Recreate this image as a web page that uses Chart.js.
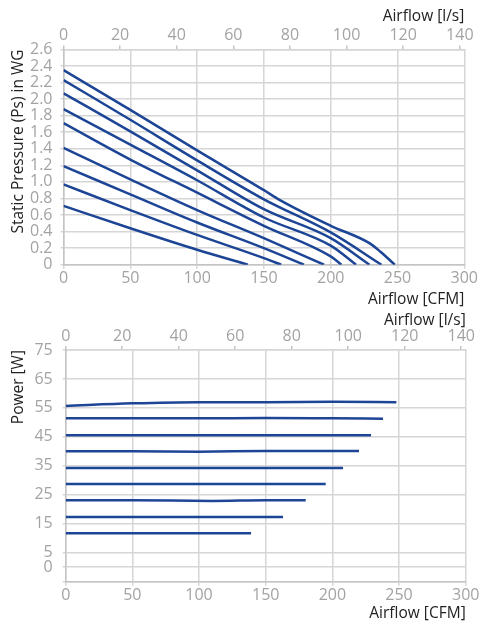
<!DOCTYPE html>
<html>
<head>
<meta charset="utf-8">
<script src="https://cdn.jsdelivr.net/npm/chart.js@4/dist/chart.umd.min.js"></script>
<style>
  body { margin: 0; background: #fff; }
  .box { position: absolute; left: 0; width: 480px; }
  #top { top: 0; height: 310px; }
  #bottom { top: 308px; height: 316px; }
</style>
</head>
<body>
<div class="box" id="top"><canvas id="pressureChart"></canvas></div>
<div class="box" id="bottom"><canvas id="powerChart"></canvas></div>
<script>
// tick labels
const cfmTicks = [0, 50, 100, 150, 200, 250, 300];
const lpsTicks = [0, 20, 40, 60, 80, 100, 120, 140];
const pressureTicks = [0, 0.2, 0.4, 0.6, 0.8, 1.0, 1.2, 1.4, 1.6, 1.8, 2.0, 2.2, 2.4, 2.6];
const powerTicks = [-5, 0, 5, 15, 25, 35, 45, 55, 65, 75];
const CFM_PER_LPS = 2.11888;

// static pressure curves (airflow in CFM, pressure in WG), one row per fan speed
const pressureFlow = [
    [0, 50, 100, 150, 162, 200, 229, 237, 248],
    [0, 50, 100, 150, 200, 238],
    [0, 50, 100, 150, 200, 229],
    [0, 50, 100, 150, 200, 219],
    [0, 50, 100, 150, 200, 208],
    [0, 50, 100, 150, 195],
    [0, 50, 100, 150, 180],
    [0, 50, 100, 150, 163],
    [0, 50, 100, 138]
];
const pressureWg = [
    [2.35, 1.87, 1.38, 0.90, 0.78, 0.47, 0.26, 0.16, 0],
    [2.23, 1.75, 1.26, 0.79, 0.39, 0],
    [2.07, 1.61, 1.14, 0.67, 0.32, 0],
    [1.88, 1.45, 1.02, 0.57, 0.23, 0],
    [1.71, 1.27, 0.87, 0.47, 0.10, 0],
    [1.41, 1.03, 0.66, 0.32, 0],
    [1.19, 0.85, 0.51, 0.20, 0],
    [0.97, 0.66, 0.36, 0.08, 0],
    [0.71, 0.44, 0.18, 0]
];

// power curves (airflow in CFM, power in W)
const powerFlow = [
    [0, 50, 100, 150, 200, 248],
    [0, 50, 100, 150, 200, 238],
    [0, 50, 100, 150, 200, 229],
    [0, 50, 100, 150, 200, 220],
    [0, 50, 100, 150, 208],
    [0, 50, 100, 150, 195],
    [0, 50, 110, 150, 180],
    [0, 50, 100, 150, 163],
    [0, 50, 100, 139]
];
const powerWatts = [
    [55.7, 56.6, 57.0, 57.0, 57.1, 57.0],
    [51.4, 51.4, 51.4, 51.5, 51.4, 51.3],
    [45.6, 45.6, 45.6, 45.6, 45.6, 45.6],
    [40.0, 40.0, 39.9, 40.1, 40.1, 40.1],
    [34.3, 34.3, 34.3, 34.3, 34.3],
    [28.7, 28.7, 28.7, 28.7, 28.7],
    [23.1, 23.1, 22.9, 23.1, 23.1],
    [17.3, 17.3, 17.3, 17.3, 17.3],
    [11.7, 11.7, 11.7, 11.7]
];

const lineColor = '#1d4596';
const gridColor = '#d6d6d6';
const tickColor = '#a3a3a3';
const fontFamily = '"Open Sans", "Noto Sans", sans-serif';

function buildDatasets(flows, values) {
    return flows.map((flow, i) => ({
        data: flow.map((x, j) => ({ x: x, y: values[i][j] })),
        borderColor: lineColor,
        borderWidth: 2.5,
        pointRadius: 0,
        fill: false,
        cubicInterpolationMode: 'monotone'
    }));
}

function makeChart(id, flows, values, yTicks, yTitle, yLabel, sizes) {
    const ctx = document.getElementById(id).getContext('2d');
    const tickFont = { family: fontFamily, size: 16 };
    const titleFont = { family: fontFamily, size: 15.5 };
    return new Chart(ctx, {
        type: 'line',
        data: { datasets: buildDatasets(flows, values) },
        options: {
            responsive: true,
            maintainAspectRatio: false,
            animation: false,
            events: [],
            layout: { padding: { left: 0, right: sizes.right, top: 0, bottom: 0 } },
            plugins: { legend: { display: false }, tooltip: { enabled: false } },
            scales: {
                x: {
                    type: 'linear',
                    position: 'bottom',
                    min: 0,
                    max: 300,
                    afterBuildTicks: s => { s.ticks = cfmTicks.map(v => ({ value: v })); },
                    afterFit: s => { s.height = sizes.bottom; },
                    grid: { color: gridColor, lineWidth: 1.5, tickLength: 4 },
                    border: { color: '#c4c4c4', width: 1.5 },
                    ticks: { color: tickColor, font: tickFont, padding: 0, maxRotation: 0, autoSkip: false },
                    title: { display: true, text: 'Airflow [CFM]', align: 'end', color: '#222',
                             font: titleFont, padding: { top: 0, bottom: 1 } }
                },
                x2: {
                    type: 'linear',
                    position: 'top',
                    min: 0,
                    max: 300 / CFM_PER_LPS,
                    afterBuildTicks: s => { s.ticks = lpsTicks.map(v => ({ value: v })); },
                    afterFit: s => { s.height = sizes.top; },
                    grid: { drawOnChartArea: false, color: '#c4c4c4', lineWidth: 1.5, tickLength: 4 },
                    border: { color: gridColor, width: 1.5 },
                    ticks: { color: tickColor, font: tickFont, padding: 0, maxRotation: 0, autoSkip: false },
                    title: { display: true, text: 'Airflow [l/s]', align: 'end', color: '#222',
                             font: titleFont, padding: { top: sizes.titleTop, bottom: 0 } }
                },
                y: {
                    type: 'linear',
                    min: yTicks[0],
                    max: yTicks[yTicks.length - 1],
                    afterBuildTicks: s => { s.ticks = yTicks.map(v => ({ value: v })); },
                    afterFit: s => { s.width = sizes.left; },
                    grid: { color: gridColor, lineWidth: 1.5, tickLength: 3 },
                    border: { color: '#c4c4c4', width: 1.5 },
                    ticks: { color: tickColor, font: tickFont, padding: sizes.tickPad, autoSkip: false, callback: yLabel },
                    title: { display: true, text: yTitle, align: 'end', color: '#222',
                             font: titleFont, padding: { top: 9, bottom: 0 } }
                }
            }
        }
    });
}

makeChart('pressureChart', pressureFlow, pressureWg, pressureTicks, 'Static Pressure (Ps) in WG',
    v => v === 0 ? '0' : v.toFixed(1),
    { top: 49.4, bottom: 45.3, left: 63.5, right: 15.7, tickPad: 8, titleTop: 7 });

makeChart('powerChart', powerFlow, powerWatts, powerTicks, 'Power [W]',
    v => v < 0 ? '' : String(v),
    { top: 42, bottom: 42.3, left: 65.7, right: 14.3, tickPad: 10, titleTop: 3 });
</script>
</body>
</html>
